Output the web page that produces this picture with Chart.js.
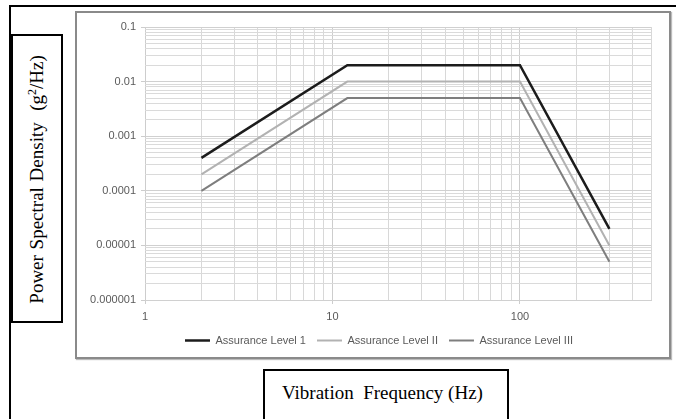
<!DOCTYPE html>
<html>
<head>
<meta charset="utf-8">
<script src="https://cdn.jsdelivr.net/npm/chart.js@4.4.1/dist/chart.umd.min.js"></script>
<style>
  html, body { margin: 0; padding: 0; background: #fff; width: 676px; height: 419px; overflow: hidden; }
  #frame { position: absolute; left: 9px; top: 5px; width: 700px; height: 440px; border-top: 2px solid #000; border-left: 2px solid #000; box-sizing: border-box; }
  #chartbox { position: absolute; left: 75px; top: 11px; width: 596px; height: 348px; border: 2px solid #8a8a8a; box-sizing: border-box; background: #fff; box-shadow: 1px 1px 1px #bbb; }
  #c { position: absolute; left: 0; top: 0; }
  #ytitle { position: absolute; left: 11px; top: 34px; width: 52px; height: 289px; border: 2px solid #000; box-sizing: border-box; background: #fff;
    font-family: "Liberation Serif", "DejaVu Serif", serif; font-size: 19px; color: #000; }
  #ytitle span { position: absolute; left: 50%; top: 50%; transform: translate(-50%, -48%) rotate(-90deg); white-space: pre; display: block; word-spacing: 1px; }
  #ytitle sup { font-size: 12px; vertical-align: 7px; line-height: 0; }
  #xtitle { position: absolute; left: 263px; top: 369px; width: 246px; height: 70px; border: 2px solid #000; box-sizing: border-box; background: #fff;
    font-family: "Liberation Serif", "DejaVu Serif", serif; font-size: 19px; color: #000; }
  #xtitle span { position: absolute; left: 17px; top: 11px; white-space: pre; line-height: 22px; }
</style>
</head>
<body>
<div id="frame"></div>
<div id="chartbox"></div>
<canvas id="c" width="676" height="419"></canvas>
<div id="ytitle"><span>Power Spectral Density  (g<sup>2</sup>/Hz)</span></div>
<div id="xtitle"><span>Vibration  Frequency (Hz)</span></div>
<script>
// ---- data ----
const frequencies = [2, 12, 100, 300];
const level1 = [0.0004, 0.02, 0.02, 0.00002];
const level2 = [0.0002, 0.01, 0.01, 0.00001];
const level3 = [0.0001, 0.005, 0.005, 0.000005];
const seriesNames = ['Assurance Level 1', 'Assurance Level II', 'Assurance Level III'];
const xTickValues = [1, 10, 100];
const xTickLabels = ['1', '10', '100'];
const yTickValues = [0.000001, 0.00001, 0.0001, 0.001, 0.01, 0.1];
const yTickLabels = ['0.000001', '0.00001', '0.0001', '0.001', '0.01', '0.1'];
const xMin = 1, xMax = 500, yMin = 0.000001, yMax = 0.1;
const minorMultipliers = [1, 2, 3, 4, 5, 6, 7, 8, 9];

function pts(ys) { return frequencies.map((f, i) => ({ x: f, y: ys[i] })); }
function logTicks(min, max) {
  const out = [];
  for (let e = Math.floor(Math.log10(min)); e <= Math.ceil(Math.log10(max)); e++) {
    for (const m of minorMultipliers) {
      const v = Number(m + 'e' + e);
      if (v >= min * 0.9999 && v <= max * 1.0001) out.push({ value: v });
    }
  }
  return out;
}
function findIdx(arr, v) { return arr.findIndex(a => Math.abs(a - v) / a < 1e-6); }

const tickFont = { family: '"Liberation Sans", Arial, sans-serif', size: 11 };
const legendFont = { family: '"Liberation Sans", Arial, sans-serif', size: 11 };
const grey = '#5a5a5a';

// shift the legend box horizontally so it is centred where the reference legend is
const legendShift = {
  id: 'legendShift',
  afterLayout(chart) {
    const lg = chart.legend;
    if (lg) { lg.left += 15; lg.right += 15; }
  }
};

new Chart(document.getElementById('c'), {
  type: 'line',
  plugins: [legendShift],
  data: {
    datasets: [
      { label: seriesNames[0], data: pts(level1), borderColor: '#1c1c1c', backgroundColor: '#1c1c1c', borderWidth: 2.5 },
      { label: seriesNames[1], data: pts(level2), borderColor: '#b2b2b2', backgroundColor: '#b2b2b2', borderWidth: 2 },
      { label: seriesNames[2], data: pts(level3), borderColor: '#7e7e7e', backgroundColor: '#7e7e7e', borderWidth: 2 }
    ]
  },
  options: {
    responsive: false,
    animation: false,
    devicePixelRatio: 1,
    elements: { point: { radius: 0, hoverRadius: 0 }, line: { tension: 0 } },
    layout: { padding: { left: 77, right: 25, top: 27, bottom: 63 } },
    plugins: {
      tooltip: { enabled: false },
      legend: {
        position: 'bottom',
        labels: {
          usePointStyle: true, pointStyle: 'line', pointStyleWidth: 25, boxHeight: 11,
          padding: 11, color: grey, font: legendFont
        }
      }
    },
    scales: {
      x: {
        type: 'logarithmic', min: xMin, max: xMax,
        afterBuildTicks: s => { s.ticks = logTicks(xMin, xMax); },
        afterFit: s => { s.height = 24; },
        ticks: {
          autoSkip: false, maxRotation: 0, padding: 6, color: grey, font: tickFont,
          callback: v => { const i = findIdx(xTickValues, v); return i >= 0 ? xTickLabels[i] : ''; }
        },
        grid: {
          color: c => (c.tick && findIdx(xTickValues, c.tick.value) >= 0) ? '#cdcdcd' : '#d8d8d8',
          tickLength: 4,
          tickColor: c => (c.tick && findIdx(xTickValues, c.tick.value) >= 0) ? '#cdcdcd' : 'rgba(0,0,0,0)'
        },
        border: { color: '#d0d0d0' }
      },
      y: {
        type: 'logarithmic', min: yMin, max: yMax,
        afterBuildTicks: s => { s.ticks = logTicks(yMin, yMax); },
        afterFit: s => { s.width = 68; },
        ticks: {
          autoSkip: false, padding: 5, color: grey, font: tickFont,
          callback: v => { const i = findIdx(yTickValues, v); return i >= 0 ? yTickLabels[i] : ''; }
        },
        grid: {
          color: c => (c.tick && findIdx(yTickValues, c.tick.value) >= 0) ? '#d0d0d0' : '#dadada',
          tickLength: 4,
          tickColor: c => (c.tick && findIdx(yTickValues, c.tick.value) >= 0) ? '#cdcdcd' : 'rgba(0,0,0,0)'
        },
        border: { display: false }
      }
    }
  }
});
</script>
</body>
</html>
